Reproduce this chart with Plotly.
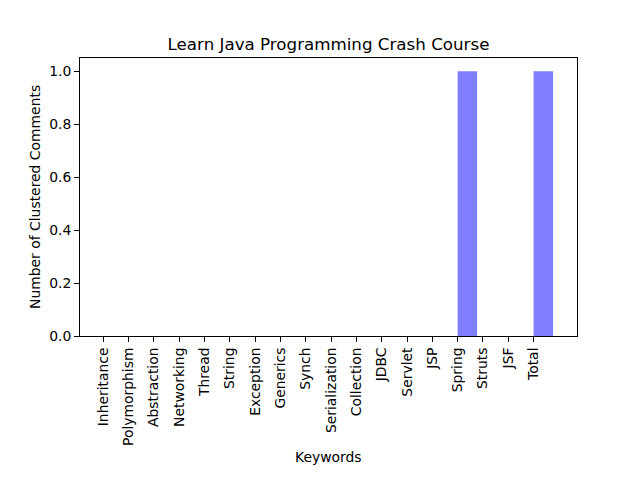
import plotly.graph_objects as go

categories = ["Inheritance", "Polymorphism", "Abstraction", "Networking", "Thread", "String",
              "Exception", "Generics", "Synch", "Serialization", "Collection", "JDBC",
              "Servlet", "JSP", "Spring", "Struts", "JSF", "Total"]
values = [0, 0, 0, 0, 0, 0, 0, 0, 0, 0, 0, 0, 0, 0, 1, 0, 0, 1]

positions = list(range(len(categories)))

fig = go.Figure()
fig.add_trace(go.Bar(
    x=positions, y=values, width=0.77, offset=0,
    marker=dict(color="rgba(0,0,255,0.5)", line=dict(width=0)),
))

font = "DejaVu Sans, sans-serif"
fig.update_layout(
    width=640, height=480,
    margin=dict(l=80, r=63.3, t=58.3, b=144.3),
    paper_bgcolor="white", plot_bgcolor="white",
    showlegend=False,
    font=dict(family=font, size=13.9, color="black"),
    title=dict(text="Learn Java Programming Crash Course", x=0.5, xref="paper",
               y=1 - 44 / 480, yref="container", yanchor="middle", xanchor="center",
               font=dict(size=16.7, family=font, color="black")),
)
fig.update_xaxes(
    range=[-0.92, 18.716], tickmode="array", tickvals=positions, ticktext=categories,
    tickangle=-90, ticks="outside", ticklen=4.9, tickwidth=1.1, tickcolor="black",
    showline=True, linecolor="black", linewidth=1.1, mirror=True, showgrid=False,
    zeroline=False, tickfont=dict(size=13.9, family=font, color="black"),
)
fig.update_yaxes(
    range=[0, 1.05], tickmode="array", tickvals=[0, 0.2, 0.4, 0.6, 0.8, 1.0],
    ticktext=["0.0", "0.2", "0.4", "0.6", "0.8", "1.0"],
    ticks="outside", ticklen=4.9, tickwidth=1.1, tickcolor="black",
    showline=True, linecolor="black", linewidth=1.1, mirror=True, showgrid=False,
    zeroline=False, tickfont=dict(size=13.9, family=font, color="black"),
)
fig.add_annotation(text="Keywords", xref="paper", yref="paper", x=0.5,
                   y=-(456 - 335.7) / 277.4, yanchor="middle", showarrow=False,
                   font=dict(size=13.9, family=font, color="black"))
fig.add_annotation(text="Number of Clustered Comments", xref="paper", yref="paper",
                   x=-(80 - 35) / 496.7, y=0.5, xanchor="center", yanchor="middle",
                   textangle=-90, showarrow=False,
                   font=dict(size=13.9, family=font, color="black"))

fig.write_html("out.html")
